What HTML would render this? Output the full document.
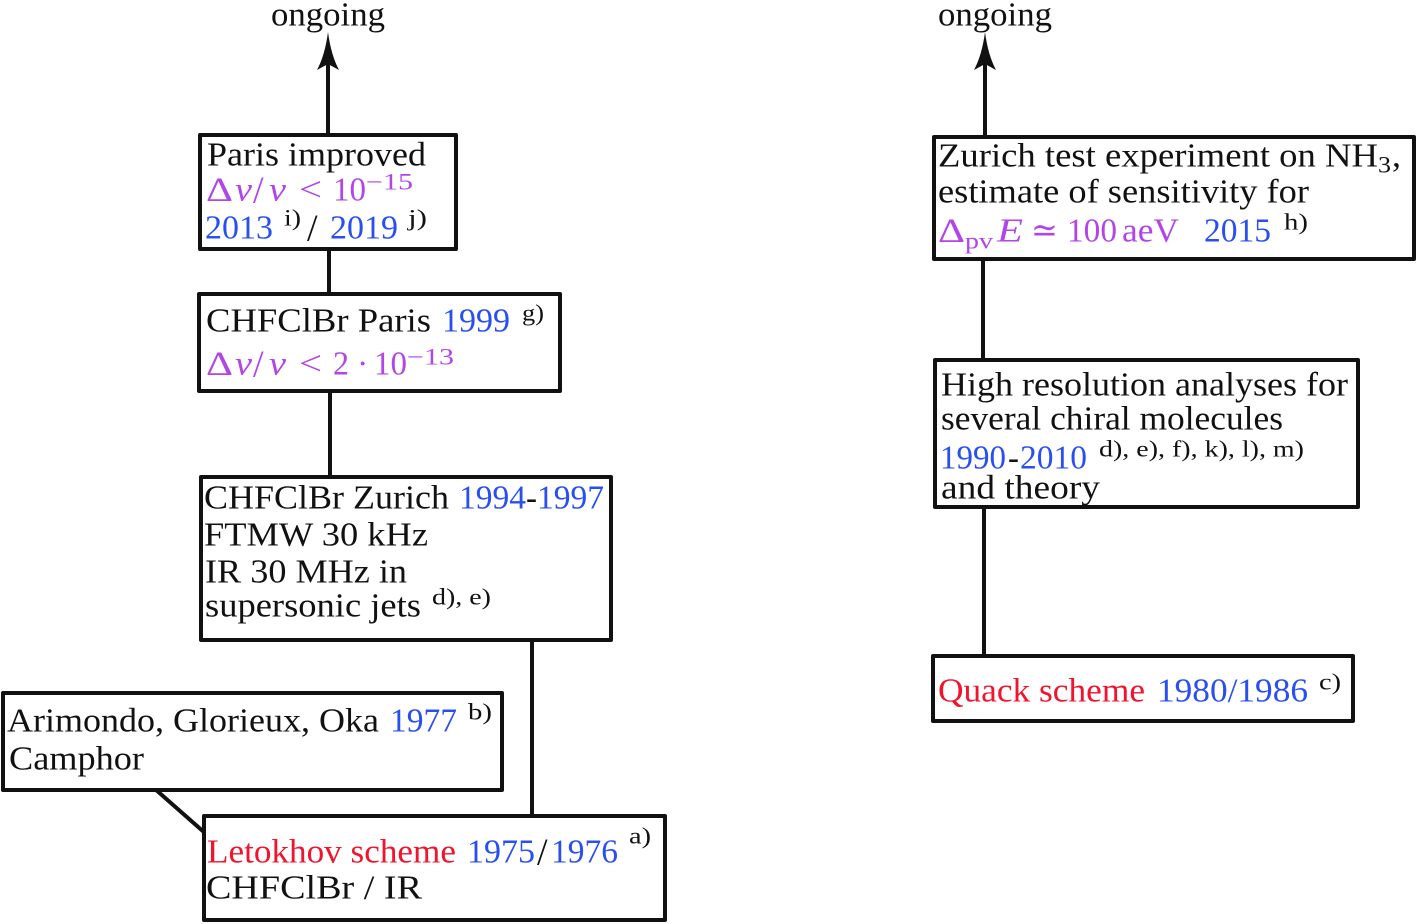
<!DOCTYPE html>
<html>
<head>
<meta charset="utf-8">
<style>
html,body{margin:0;padding:0;background:#fff;width:1418px;height:924px;overflow:hidden}
svg{display:block}
text{font-family:"Liberation Serif","DejaVu Serif",serif;font-size:34px;fill:#111}
.b{fill:#2a4ff0}.p{fill:#b245e8}.r{fill:#f0142d}
.s{font-size:23px}
.i{font-style:italic}
.sl{font-size:38px}
rect{fill:#fff;stroke:#111;stroke-width:4;stroke-linejoin:round}
line{stroke:#111;stroke-width:4}
</style>
</head>
<body>
<svg width="1418" height="924" viewBox="0 0 1418 924" xmlns="http://www.w3.org/2000/svg">
<!-- connectors -->
<line x1="328" y1="60" x2="328" y2="136"/>
<path d="M328 32 Q331 55 339 70 L328 64 L317 70 Q325 55 328 32 Z" fill="#111"/>
<line x1="329" y1="248" x2="329" y2="294"/>
<line x1="330" y1="390" x2="330" y2="477"/>
<line x1="532" y1="639" x2="532" y2="816"/>
<line x1="155" y1="789" x2="205" y2="833"/>
<line x1="985" y1="60" x2="985" y2="138"/>
<path d="M985 32 Q988 55 996 70 L985 64 L974 70 Q982 55 985 32 Z" fill="#111"/>
<line x1="983" y1="258" x2="983" y2="360"/>
<line x1="984" y1="506" x2="984" y2="656"/>

<!-- boxes -->
<rect x="200" y="135" width="256" height="114"/>
<rect x="199" y="294" width="361" height="97"/>
<rect x="201" y="477" width="410" height="163"/>
<rect x="3" y="693" width="499" height="97"/>
<rect x="204" y="816" width="461" height="104"/>
<rect x="934" y="137" width="480" height="122"/>
<rect x="935" y="360" width="423" height="147"/>
<rect x="933" y="656" width="420" height="65"/>

<g transform="translate(0,0.6)">
<!-- ongoing -->
<text x="271" y="25" textLength="114" lengthAdjust="spacingAndGlyphs">ongoing</text>
<text x="938" y="25" textLength="114" lengthAdjust="spacingAndGlyphs">ongoing</text>

<!-- Paris improved -->
<text x="207" y="165" textLength="219" lengthAdjust="spacingAndGlyphs">Paris improved</text>
<text class="p" x="206" y="200" textLength="27" lengthAdjust="spacingAndGlyphs">Δ</text>
<text class="p i" x="235" y="200" textLength="17" lengthAdjust="spacingAndGlyphs">ν</text>
<text class="p sl" x="253" y="202">/</text>
<text class="p i" x="269" y="200" textLength="17" lengthAdjust="spacingAndGlyphs">ν</text>
<text class="p" x="299" y="200" textLength="23" lengthAdjust="spacingAndGlyphs">&lt;</text>
<text class="p" x="333" y="200" textLength="33" lengthAdjust="spacingAndGlyphs">10</text>
<text class="p s" x="366" y="189" textLength="47" lengthAdjust="spacingAndGlyphs">−15</text>
<text class="b" x="205" y="238" textLength="68" lengthAdjust="spacingAndGlyphs">2013</text>
<text class="s" x="284" y="225" textLength="17" lengthAdjust="spacingAndGlyphs">i)</text>
<text class="sl" x="307" y="240">/</text>
<text class="b" x="330" y="238" textLength="68" lengthAdjust="spacingAndGlyphs">2019</text>
<text class="s" x="408" y="225" textLength="19" lengthAdjust="spacingAndGlyphs">j)</text>

<!-- CHFClBr Paris -->
<text x="206" y="331" textLength="225" lengthAdjust="spacingAndGlyphs">CHFClBr Paris</text>
<text class="b" x="442" y="331" textLength="68" lengthAdjust="spacingAndGlyphs">1999</text>
<text class="s" x="522" y="320" textLength="22" lengthAdjust="spacingAndGlyphs">g)</text>
<text class="p" x="206" y="374" textLength="27" lengthAdjust="spacingAndGlyphs">Δ</text>
<text class="p i" x="235" y="374" textLength="17" lengthAdjust="spacingAndGlyphs">ν</text>
<text class="p sl" x="253" y="376">/</text>
<text class="p i" x="269" y="374" textLength="17" lengthAdjust="spacingAndGlyphs">ν</text>
<text class="p" x="299" y="374" textLength="23" lengthAdjust="spacingAndGlyphs">&lt;</text>
<text class="p" x="333" y="374" textLength="16" lengthAdjust="spacingAndGlyphs">2</text>
<text class="p" x="357" y="374">·</text>
<text class="p" x="374" y="374" textLength="33" lengthAdjust="spacingAndGlyphs">10</text>
<text class="p s" x="407" y="364" textLength="47" lengthAdjust="spacingAndGlyphs">−13</text>

<!-- CHFClBr Zurich -->
<text x="204" y="508" textLength="245" lengthAdjust="spacingAndGlyphs">CHFClBr Zurich</text>
<text class="b" x="459" y="508" textLength="67" lengthAdjust="spacingAndGlyphs">1994</text>
<text x="526" y="508" textLength="11" lengthAdjust="spacingAndGlyphs">-</text>
<text class="b" x="537" y="508" textLength="67" lengthAdjust="spacingAndGlyphs">1997</text>
<text x="204" y="545" textLength="224" lengthAdjust="spacingAndGlyphs">FTMW 30 kHz</text>
<text x="205" y="582" textLength="202" lengthAdjust="spacingAndGlyphs">IR 30 MHz in</text>
<text x="205" y="616" textLength="216" lengthAdjust="spacingAndGlyphs">supersonic jets</text>
<text class="s" x="432" y="604" textLength="59" lengthAdjust="spacingAndGlyphs">d), e)</text>

<!-- Arimondo -->
<text x="7" y="731" textLength="372" lengthAdjust="spacingAndGlyphs">Arimondo, Glorieux, Oka</text>
<text class="b" x="390" y="731" textLength="67" lengthAdjust="spacingAndGlyphs">1977</text>
<text class="s" x="468" y="719" textLength="24" lengthAdjust="spacingAndGlyphs">b)</text>
<text x="9" y="769" textLength="135" lengthAdjust="spacingAndGlyphs">Camphor</text>

<!-- Letokhov -->
<text class="r" x="207" y="862" textLength="249" lengthAdjust="spacingAndGlyphs">Letokhov scheme</text>
<text class="b" x="467" y="862" textLength="68" lengthAdjust="spacingAndGlyphs">1975</text>
<text class="sl" x="537" y="864">/</text>
<text class="b" x="551" y="862" textLength="67" lengthAdjust="spacingAndGlyphs">1976</text>
<text class="s" x="629" y="843" textLength="22" lengthAdjust="spacingAndGlyphs">a)</text>
<text x="206" y="898" textLength="216" lengthAdjust="spacingAndGlyphs">CHFClBr / IR</text>

<!-- Zurich test -->
<text x="938" y="166" textLength="440" lengthAdjust="spacingAndGlyphs">Zurich test experiment on NH</text>
<text class="s" x="1378" y="172" textLength="13" lengthAdjust="spacingAndGlyphs">3</text>
<text x="1392" y="166" textLength="9" lengthAdjust="spacingAndGlyphs">,</text>
<text x="938" y="202" textLength="371" lengthAdjust="spacingAndGlyphs">estimate of sensitivity for</text>
<text class="p" x="938" y="241" textLength="27" lengthAdjust="spacingAndGlyphs">Δ</text>
<text class="p s" x="965" y="248" textLength="28" lengthAdjust="spacingAndGlyphs">pv</text>
<text class="p i" x="997" y="241" textLength="26" lengthAdjust="spacingAndGlyphs">E</text>
<text class="p" x="1031" y="241" textLength="27" lengthAdjust="spacingAndGlyphs">≃</text>
<text class="p" x="1067" y="241" textLength="50" lengthAdjust="spacingAndGlyphs">100</text>
<text class="p" x="1122" y="241" textLength="57" lengthAdjust="spacingAndGlyphs">aeV</text>
<text class="b" x="1204" y="241" textLength="67" lengthAdjust="spacingAndGlyphs">2015</text>
<text class="s" x="1284" y="229" textLength="24" lengthAdjust="spacingAndGlyphs">h)</text>

<!-- High resolution -->
<text x="941" y="395" textLength="407" lengthAdjust="spacingAndGlyphs">High resolution analyses for</text>
<text x="941" y="429" textLength="342" lengthAdjust="spacingAndGlyphs">several chiral molecules</text>
<text class="b" x="940" y="468" textLength="66" lengthAdjust="spacingAndGlyphs">1990</text>
<text x="1008" y="468" textLength="11" lengthAdjust="spacingAndGlyphs">-</text>
<text class="b" x="1020" y="468" textLength="67" lengthAdjust="spacingAndGlyphs">2010</text>
<text class="s" x="1099" y="456" textLength="205" lengthAdjust="spacingAndGlyphs">d), e), f), k), l), m)</text>
<text x="941" y="498" textLength="159" lengthAdjust="spacingAndGlyphs">and theory</text>

<!-- Quack -->
<text class="r" x="938" y="701" textLength="207" lengthAdjust="spacingAndGlyphs">Quack scheme</text>
<text class="b" x="1157" y="701" textLength="151" lengthAdjust="spacingAndGlyphs">1980/1986</text>
<text class="s" x="1319" y="689" textLength="22" lengthAdjust="spacingAndGlyphs">c)</text>
</g>
</svg>
</body>
</html>
